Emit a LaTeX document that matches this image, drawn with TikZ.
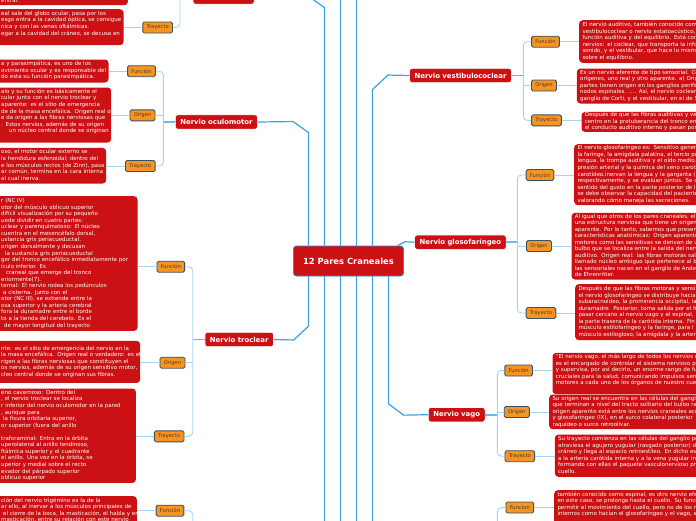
\documentclass[tikz,border=0pt]{standalone}
\usepackage{fontspec}
\setmainfont{DejaVu Sans}
\usetikzlibrary{calc}

\definecolor{rojo}{RGB}{204,17,20}
\definecolor{naranja}{RGB}{247,148,32}
\definecolor{borde}{RGB}{58,82,104}
\definecolor{pardo}{RGB}{72,60,50}
\definecolor{azul}{RGB}{58,162,228}
\definecolor{celeste}{RGB}{166,212,242}

\newcommand{\lineas}[1]{\begin{tabular}{@{}l@{}}#1\end{tabular}}

\begin{document}
\begin{tikzpicture}[x=1pt, y=-1pt,
    centro/.style={fill=rojo, draw=azul!85!black, line width=0.9pt, rounded corners=3pt, text=white, font=\fontsize{8.4}{10}\selectfont\bfseries, minimum width=110pt, minimum height=30pt},
    nervio/.style={fill=rojo, draw=white, line width=0.6pt, rounded corners=2.5pt, text=white, font=\fontsize{6.9}{8}\selectfont\bfseries, inner xsep=5pt, inner ysep=0pt, minimum height=14.4pt},
    parte/.style={fill=naranja, draw=borde, line width=0.9pt, rounded corners=1.5pt, text=pardo, font=\fontsize{5.2}{6}\selectfont, inner xsep=3.8pt, inner ysep=0pt, minimum height=11pt},
    nota/.style={fill=rojo, rounded corners=3.5pt, text=white, font=\fontsize{5.5}{6.55}\selectfont, anchor=north west, inner ysep=0pt},
    izq/.style={nota, inner xsep=6pt},
    der/.style={nota, inner xsep=3.3pt, text width=200pt},
    tronco/.style={draw=azul, line width=1.2pt},
    enlace/.style={draw=azul!75!white, line width=1.6pt},
    rama/.style={draw=celeste, line width=0.9pt, rounded corners=4pt}
]
\useasboundingbox (0,0) rectangle (696,520);
\fill[white] (0,0) rectangle (696,520);
\clip (0,0) rectangle (696,520);

\node[centro] (pares) at (348.5,261) {12 Pares Craneales};

\node[nervio, minimum width=61.3pt] (optico) at (223.6,-3) {};
\node[nervio] (oculo) at (216.4,122) {Nervio oculomotor};
\node[nervio] (troclear) at (239.2,339.5) {Nervio troclear};
\node[nervio] (vestib) at (460.5,75.5) {Nervio vestibulococlear};
\node[nervio] (gloso) at (460.4,242.2) {Nervio glosofaríngeo};
\node[nervio] (vago) at (456.7,414.7) {Nervio vago};

\coordinate (arriba) at (0,-10);
\coordinate (abajo) at (0,530);

\draw[tronco] ([xshift=-40pt]pares.north) -- ++(0,-113) -- ++(-15.5,-11) -- (oculo.east);
\draw[tronco] ([xshift=-24pt]pares.north) -- ++(0,-238) -- ++(-15.7,-11) -- (optico.east);
\foreach \d in {-8,8}
    \draw[tronco] ([xshift=\d pt]pares.north) -- ([xshift=\d pt]pares.north |- arriba);
\draw[tronco] ([xshift=24pt]pares.north) -- ++(0,-156) -- ++(15.5,-14.5) -- (vestib.west);
\draw[tronco] ([xshift=49pt]pares.north) -- ++(7.5,-3.8) -- (gloso.west);
\draw[tronco] ([xshift=-40pt]pares.south) -- ++(0,49.7) -- ++(-14.8,13.8) -- (troclear.east);
\foreach \d in {-24,-8,8,24}
    \draw[tronco] ([xshift=\d pt]pares.south) -- ([xshift=\d pt]pares.south |- abajo);
\draw[tronco] ([xshift=40pt]pares.south) -- ++(0,127.3) -- ++(15.2,11.4) -- (vago.west);

\node[parte] (optT) at (157.7,27.5) {Trayecto};
\node[parte] (ocuF) at (141.5,71.2) {Función};
\node[parte] (ocuO) at (142.5,115.3) {Origen};
\node[parte] (ocuT) at (140.3,166) {Trayecto};
\node[parte] (troF) at (170.8,266.7) {Función};
\node[parte] (troO) at (172.5,362.7) {Origen};
\node[parte] (troT) at (169.2,436.3) {Trayecto};
\node[parte] (triF) at (170,510.7) {Función};
\node[parte] (vesF) at (545.5,41.7) {Función};
\node[parte] (vesO) at (544,85.5) {Origen};
\node[parte] (vesT) at (546.5,120.3) {Trayecto};
\node[parte] (glF) at (540,175) {Función};
\node[parte] (glO) at (539,246) {Origen};
\node[parte] (glT) at (541,313) {Trayecto};
\node[parte] (vaF) at (518.7,370.5) {Función};
\node[parte] (vaO) at (516.8,412) {Origen};
\node[parte] (vaT) at (519.8,456.2) {Trayecto};
\node[parte] (espF) at (519.8,507.5) {Funcion};

\coordinate (optHub) at (180,-3);
\coordinate (ocuHub) at (163.3,122);
\coordinate (troHub) at (192.7,339.5);
\coordinate (triHub) at (192.7,560);
\coordinate (vesHub) at (523.3,75.5);
\coordinate (glHub) at (517.3,242.2);
\coordinate (vaHub) at (497.3,414.7);
\coordinate (espHub) at (497.3,560);

\draw[enlace] (optico.west) -- (optHub);
\draw[rama] (optT.east) -| (optHub);
\draw[enlace] (oculo.west) -- (ocuHub);
\draw[rama] (ocuF.east) -| (ocuHub) |- (ocuT.east);
\draw[rama] (ocuO.east) -- (ocuO.east -| ocuHub);
\draw[enlace] (troclear.west) -- (troHub);
\draw[rama] (troF.east) -| (troHub) |- (troT.east);
\draw[rama] (troO.east) -- (troO.east -| troHub);
\draw[rama] (triF.east) -| (triHub);
\draw[enlace] (vestib.east) -- (vesHub);
\draw[rama] (vesF.west) -| (vesHub) |- (vesT.west);
\draw[rama] (vesO.west) -- (vesO.west -| vesHub);
\draw[enlace] (gloso.east) -- (glHub);
\draw[rama] (glF.west) -| (glHub) |- (glT.west);
\draw[rama] (glO.west) -- (glO.west -| glHub);
\draw[enlace] (vago.east) -- (vaHub);
\draw[rama] (vaF.west) -| (vaHub) |- (vaT.west);
\draw[rama] (vaO.west) -- (vaO.west -| vaHub);
\draw[rama] (espF.west) -| (espHub);

\node[izq, text width=120.7pt, minimum height=8pt] (topA) at (-5,-3) {\lineas{entral.}};
\node[izq, text width=116.3pt, minimum height=36pt] (optTn) at (-5,9) {\lineas{eal sale del globo ocular, pasa por los\\
esgo entra a la cavidad óptica, se consigue\\
nica y con las venas oftálmicas.\\
egar a la cavidad del cráneo, se decusa en\\ ~}};
\node[izq, text width=101.3pt, minimum height=23pt] (ocuFn) at (-5,59.3) {\lineas{a y parasimpática, es uno de los\\
ovimiento ocular y es responsable del\\
do esta su función parasimpática.}};
\node[izq, text width=104pt, minimum height=55pt] (ocuOn) at (-5,87.3) {\lineas{alo y su función es básicamente el\\
cular junto con el nervio troclear y\\
aparente: es el sitio de emergencia\\
de de la masa encefálica. Origen real o\\
e da origen a las fibras nerviosas que\\
. Estos nervios, además de su origen\\
\hspace{8pt}un núcleo central donde se originan\\ ~}};
\node[izq, text width=99pt, minimum height=35.6pt] (ocuTn) at (-5,147.7) {\lineas{oso, el motor ocular externo se\\
la hendidura esfenoidal; dentro del\\
e los músculos rectos (de Zinn), pasa\\
ar común, termina en la cara interna\\
al cual inerva.}};
\node[izq, text width=130.3pt, minimum height=134.7pt] (troFn) at (-5,196) {\lineas{r (NC IV)\\
otor del músculo oblicuo superior\\
difícil visualización por su pequeño\\
uede dividir en cuatro partes:\\
uclear y parenquimatoso: El núcleo\\
cuentra en el mesencéfalo dorsal,\\
ustancia gris periacueductal.\\
origen dorsalmente y decusan\\
\hspace{4pt}la sustancia gris periacueductal\\
ger del tronco encefálico inmediatamente por\\
ículo inferior. Es\\
\hspace{5pt}craneal que emerge del tronco\\
eriormente(7).\\
ternal: El nervio rodea los pedúnculos\\
\hspace{2pt}a cisterna. Junto con el\\
otor (NC III), se extiende entre la\\
osa superior y la arteria cerebral\\
fora la duramadre entre el borde\\
to a la tienda del cerebelo. Es el\\
\hspace{3pt}de mayor longitud del trayecto}};
\node[izq, text width=133pt, minimum height=42pt] (troOn) at (-5,340.7) {\lineas{nte: es el sitio de emergencia del nervio en la\\
la masa encefálica. Origen real o verdadero: es el\\
rigen a las fibras nerviosas que constituyen el\\
os nervios, además de su origen sensitivo motor,\\
cleo central donde se originan sus fibras.}};
\node[izq, text width=128.7pt, minimum height=94.4pt] (troTn) at (-5,388.3) {\lineas{eno cavernoso: Dentro del\\
, el nervio troclear se localiza\\
r inferior del nervio oculomotor en la pared\\
, aunque para\\
\hspace{2pt}la fisura orbitaria superior,\\
or superior (fuera del anillo\\
~\\
traforaminal: Entra en la órbita\\
uperolateral al anillo tendinoso,\\
ftálmica superior y el cuadrante\\
el anillo. Una vez en la órbita, se\\
uperior y medial sobre el recto\\
evador del párpado superior\\
oblicuo superior}};
\node[izq, text width=129.7pt, minimum height=29pt] (triFn) at (-5,496) {\lineas{ción del nervio trigémino es la de la\\
ar ello, al inervar a los músculos principales de\\
\hspace{2pt}el cierre de la boca, la masticación, el habla y en\\
masticación, entre su relación con este nervio}};

\node[der, minimum height=42.7pt] (vesFn) at (579,20) {\lineas{El nervio auditivo, también conocido com\\
vestibulococlear o nervio estatoacústico,\\
función auditiva y del equilibrio. Está com\\
nervios: el coclear, que transporta la info\\
sonido, y el vestibular, que hace lo mismo\\
sobre el equilibrio.}};
\node[der, minimum height=35pt] (vesOn) at (576.7,68.3) {\lineas{Es un nervio aferente de tipo sensorial. Co\\
orígenes, uno real y otro aparente. a) Orig\\
partes tienen origen en los ganglios perifé\\
nodos espinales. .... Así, el nervio coclear o\\
ganglio de Corti, y el vestibular, en el de S}};
\node[der, minimum height=20pt] (vesTn) at (581.3,111.7) {\lineas{Después de que las fibras auditivas y ve\\
centro en la protuberancia del tronco en\\
el conducto auditivo interno y pasan por}};
\node[der, minimum height=61pt] (glFn) at (574,144) {\lineas{El nervio glosofaríngeo es: Sensitivo gener\\
la faringe, la amígdala palatina, el tercio po\\
lengua, la trompa auditiva y el oído medio.\\
presión arterial y la química del seno carot\\
carotídeo.inervan la lengua y la garganta (\\
respectivamente, y se evalúan juntos. Se c\\
sentido del gusto en la parte posterior de l\\
se debe observar la capacidad del paciente\\
valorando cómo maneja las secreciones.}};
\node[der, minimum height=66.6pt] (glOn) at (571.3,212.7) {\lineas{Al igual que otros de los pares craneales, el\\
una estructura nerviosa que tiene un origen\\
aparente. Por lo tanto, sabemos que presen\\
características anatómicas: Origen aparente\\
motores como las sensitivas se derivan de u\\
bulbo que se localiza entre la salida del nerv\\
auditivo. Origen real: las fibras motoras sale\\
llamado núcleo ambiguo que pertenece al b\\
las sensoriales nacen en el ganglio de Ander\\
de Ehrenritter.}};
\node[der, minimum height=56pt] (glTn) at (575,284) {\lineas{Después de que las fibras motoras y sensi\\
el nervio glosofaríngeo se distribuye hacia\\
subaracnoideo, la prominencia occipital, la\\
duramadre. Posterior, toma salida por el fo\\
pasar cercano al nervio vago y el espinal,\\
la parte trasera de la carótida interna. Fin\\
músculo estilofaríngeo y la faringe, para l\\
músculo estilogloso, la amígdala y la arter}};
\node[der, minimum height=41.3pt] (vaFn) at (552.3,352.7) {\lineas{"El nervio vago, el más largo de todos los nervios c\\
es el encargado de controlar el sistema nervioso pa\\
y supervisa, por así decirlo, un enorme rango de fu\\
cruciales para la salud, comunicando impulsos sen\\
motores a cada uno de los órganos de nuestro cue\\ ~}};
\node[der, minimum height=34.7pt] (vaOn) at (549,394.3) {\lineas{Su origen real se encuentra en las células del gangli\\
que terminan a nivel del tracto solitario del bulbo ra\\
origen aparente está entre los nervios craneales acc\\
y glosofaríngeo (IX), en el surco colateral posterior\\
raquídeo o surco retroolivar.}};
\node[der, minimum height=42.4pt] (vaTn) at (554.7,434.3) {\lineas{Su trayecto comienza en las células del ganglio pe\\
atraviesa el agujero yugular (rasgado posterior) d\\
cráneo y llega al espacio retroestíleo. En dicho esp\\
a la arteria carótida interna y a la vena yugular in\\
formando con ellas el paquete vasculonervioso pri\\
cuello.}};
\node[der, minimum height=35.4pt] (espFn) at (554,490) {\lineas{también conocido como espinal, es otro nervio efe\\
en este caso, se prolonga hasta el cuello. Su funció\\
permitir el movimiento del cuello, pero no de los m\\
internos como hacían el glosofaríngeo y el vago, s\\ ~}};

\draw[rama] (optT.west) -- (optT.west -| optTn.east);
\draw[rama] (ocuF.west) -- (ocuF.west -| ocuFn.east);
\draw[rama] (ocuO.west) -- (ocuO.west -| ocuOn.east);
\draw[rama] (ocuT.west) -- (ocuT.west -| ocuTn.east);
\draw[rama] (troF.west) -- (troF.west -| troFn.east);
\draw[rama] (troO.west) -- (troO.west -| troOn.east);
\draw[rama] (troT.west) -- (troT.west -| troTn.east);
\draw[rama] (triF.west) -- (triF.west -| triFn.east);
\draw[rama] (vesF.east) -- (vesF.east -| vesFn.west);
\draw[rama] (vesO.east) -- (vesO.east -| vesOn.west);
\draw[rama] (vesT.east) -- (vesT.east -| vesTn.west);
\draw[rama] (glF.east) -- (glF.east -| glFn.west);
\draw[rama] (glO.east) -- (glO.east -| glOn.west);
\draw[rama] (glT.east) -- (glT.east -| glTn.west);
\draw[rama] (vaF.east) -- (vaF.east -| vaFn.west);
\draw[rama] (vaO.east) -- (vaO.east -| vaOn.west);
\draw[rama] (vaT.east) -- (vaT.east -| vaTn.west);
\draw[rama] (espF.east) -- (espF.east -| espFn.west);
\end{tikzpicture}
\end{document}
